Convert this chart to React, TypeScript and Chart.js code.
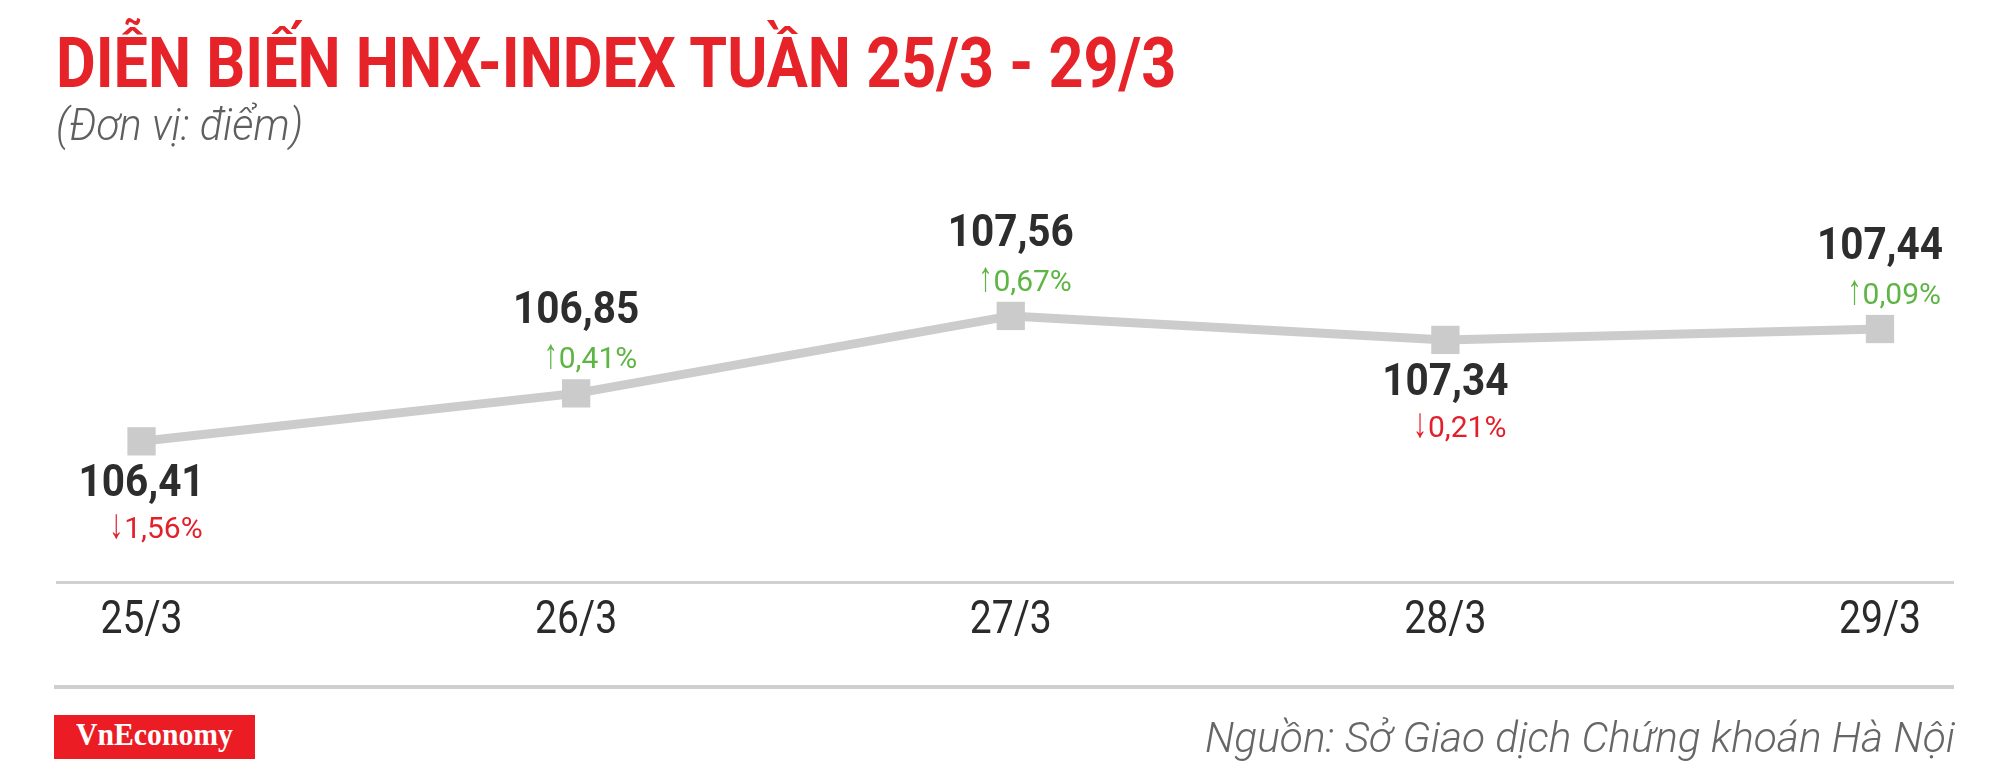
import React, { useEffect, useLayoutEffect, useRef } from "react";
import { Chart, registerables } from "chart.js";

Chart.register(...registerables);

// ---- data ----
const labels: string[] = ["25/3", "26/3", "27/3", "28/3", "29/3"];
const values: number[] = [106.41, 106.85, 107.56, 107.34, 107.44];
const changes: number[] = [-1.56, 0.41, 0.67, -0.21, 0.09];

const TITLE = "DIỄN BIẾN HNX-INDEX TUẦN 25/3 - 29/3";
const SUBTITLE = "(Đơn vị: điểm)";
const SOURCE = "Nguồn: Sở Giao dịch Chứng khoán Hà Nội";
const BRAND = "VnEconomy";

const fmt = (v: number) => v.toFixed(2).replace(".", ",");

const TICK_K = 0.85;
const VALUE_K = 0.9;

const condenseTicks = {
  id: "condenseTicks",
  beforeDraw(chart: any) {
    const ctx = chart.ctx;
    const orig = CanvasRenderingContext2D.prototype.fillText;
    ctx.fillText = function (t: string, x: number, y: number, mw?: number) {
      this.save();
      this.scale(TICK_K, 1);
      if (mw === undefined || mw === null) orig.call(this, t, x / TICK_K, y);
      else orig.call(this, t, x / TICK_K, y, mw / TICK_K);
      this.restore();
    };
  },
  beforeDatasetsDraw(chart: any) {
    delete chart.ctx.fillText;
  },
};

const pointLabels = {
  id: "pointLabels",
  afterDatasetsDraw(chart: any) {
    const ctx = chart.ctx;
    const meta = chart.getDatasetMeta(0);
    meta.data.forEach((pt: any, i: number) => {
      const up = changes[i] >= 0;
      const vy = up ? pt.y - 70 : pt.y + 55;
      const py = up ? pt.y - 25 : pt.y + 97;
      const vText = fmt(values[i]);
      ctx.save();
      ctx.font = "bold 45px Roboto";
      const w = ctx.measureText(vText).width * VALUE_K;
      ctx.translate(pt.x, vy);
      ctx.scale(VALUE_K, 1);
      ctx.textAlign = "center";
      ctx.textBaseline = "alphabetic";
      ctx.fillStyle = "#2d2d2d";
      ctx.fillText(vText, 0, 0);
      ctx.restore();

      const right = pt.x + w / 2 - 2;
      const nText = fmt(Math.abs(changes[i])) + "%";
      const color = up ? "#5db544" : "#e3202a";
      ctx.save();
      ctx.font = "30px Roboto";
      ctx.textAlign = "right";
      ctx.textBaseline = "alphabetic";
      ctx.fillStyle = color;
      ctx.fillText(nText, right, py);
      const nw = ctx.measureText(nText).width;
      ctx.font = "bold 30px Roboto";
      ctx.translate(right - nw - 1, py);
      ctx.scale(0.95, 1.4);
      ctx.fillText(up ? "↑" : "↓", 0, 0);
      ctx.restore();
    });
  },
};

function FitText(props: {
  text: string;
  left: number;
  top: number;
  width: number;
  style: React.CSSProperties;
}) {
  const ref = useRef<HTMLSpanElement>(null);
  useLayoutEffect(() => {
    const el = ref.current;
    if (!el) return;
    const nat = el.offsetWidth;
    if (nat > 0) el.style.transform = `scaleX(${props.width / nat})`;
  }, [props.text, props.width]);
  return (
    <span
      ref={ref}
      style={{
        position: "absolute",
        left: props.left,
        top: props.top,
        whiteSpace: "nowrap",
        lineHeight: 1,
        transformOrigin: "left top",
        display: "inline-block",
        ...props.style,
      }}
    >
      {props.text}
    </span>
  );
}

export default function App() {
  const canvasRef = useRef<HTMLCanvasElement>(null);

  useEffect(() => {
    if (!canvasRef.current) return;
    const chart = new Chart(canvasRef.current, {
      type: "line",
      data: {
        datasets: [
          {
            data: values.map((v, i) => ({ x: i, y: v })),
            borderColor: "#cccccc",
            borderWidth: 9,
            backgroundColor: "#cbcbcb",
            pointStyle: "rect",
            pointRadius: 20,
            pointBackgroundColor: "#cbcbcb",
            pointBorderWidth: 0,
            tension: 0,
            clip: false as any,
          },
        ],
      },
      options: {
        animation: false,
        responsive: false,
        devicePixelRatio: 1,
        layout: { padding: { left: 57, right: 47, top: 160, bottom: 0 } },
        plugins: {
          legend: { display: false },
          tooltip: { enabled: false },
          title: { display: false },
        },
        scales: {
          x: {
            type: "linear",
            min: -0.1945,
            max: 4.168,
            afterBuildTicks: (s: any) => {
              s.ticks = labels.map((_, i) => ({ value: i }));
            },
            afterFit: (s: any) => {
              s.height = 194;
            },
            ticks: {
              callback: (v: any) => labels[v] ?? "",
              font: { family: "Roboto", size: 46, weight: "normal" },
              color: "#2b2b2b",
              padding: 12,
              maxRotation: 0,
              autoSkip: false,
            },
            grid: { display: false, drawTicks: false },
            border: { display: true, color: "#d0d0d0", width: 3 },
          },
          y: { display: false, min: 105.12, max: 108.99 },
        },
      },
      plugins: [condenseTicks, pointLabels],
    } as any);
    return () => chart.destroy();
  }, []);

  return (
    <div
      style={{
        position: "absolute",
        left: 0,
        top: 0,
        width: 2000,
        height: 776,
        background: "#ffffff",
        overflow: "hidden",
        fontFamily: "Roboto",
      }}
    >
      <canvas
        ref={canvasRef}
        width={2000}
        height={776}
        style={{ position: "absolute", left: 0, top: 0, width: 2000, height: 776 }}
      />
      <FitText
        text={TITLE}
        left={56}
        top={28}
        width={1120}
        style={{ fontFamily: "Roboto", fontWeight: 700, fontSize: 70, color: "#e52329" }}
      />
      <FitText
        text={SUBTITLE}
        left={56}
        top={103}
        width={247}
        style={{ fontFamily: "Roboto", fontWeight: 300, fontStyle: "italic", fontSize: 44, color: "#5f5f5f" }}
      />
      <div
        style={{ position: "absolute", left: 54, top: 685, width: 1900, height: 4, background: "#cfcfcf" }}
      />
      <div
        style={{ position: "absolute", left: 54, top: 715, width: 201, height: 44, background: "#ec1c24" }}
      />
      <FitText
        text={BRAND}
        left={76}
        top={718}
        width={157}
        style={{ fontFamily: "'Liberation Serif'", fontWeight: 700, fontSize: 32, color: "#ffffff" }}
      />
      <FitText
        text={SOURCE}
        left={1205}
        top={716}
        width={750}
        style={{ fontFamily: "Roboto", fontWeight: 300, fontStyle: "italic", fontSize: 43, color: "#666666" }}
      />
    </div>
  );
}
